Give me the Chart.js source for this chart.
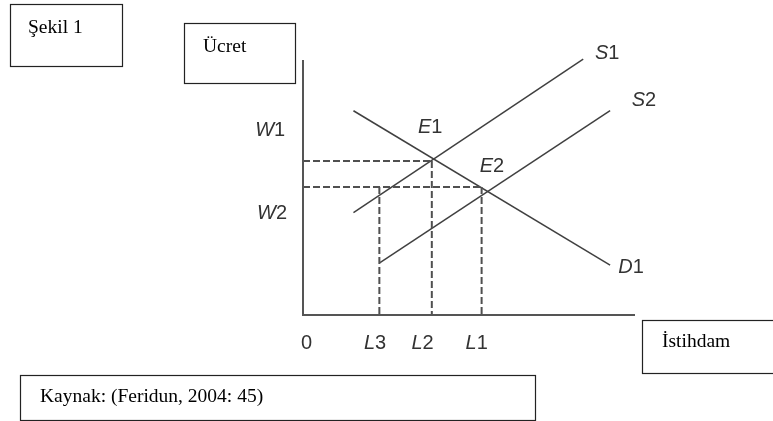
<!DOCTYPE html>
<html>
<head>
<meta charset="utf-8">
<script src="https://cdn.jsdelivr.net/npm/chart.js@4.4.1/dist/chart.umd.min.js"></script>
<style>
html,body{margin:0;padding:0;background:#fff;}
#wrap{position:relative;width:773px;height:421px;}
canvas{display:block;}
</style>
</head>
<body>
<div id="wrap"><canvas id="c" width="773" height="421"></canvas></div>
<script>
// ---- data (axis units: employment 0..100, wage 0..100) ----
const L3 = 23.0, L2 = 38.8, L1 = 53.8;
const W1 = 60.4, W2 = 50.2;
const supply1 = [{x: 15.2, y: 40.1}, {x: 84.4, y: 100.3}];
const supply2 = [{x: 23.2, y: 20.5}, {x: 92.5, y: 80.1}];
const demand1 = [{x: 15.2, y: 80.1}, {x: 92.5, y: 19.6}];
const xTickValues = [0, L3, L2, L1];
const xTickLabels = ['0', 'L3', 'L2', 'L1'];
const curveLabels = ['S1', 'S2', 'D1', 'E1', 'E2', 'W1', 'W2'];
const curveLabelX = [91.6, 102.7, 98.8, 38.3, 56.9, -9.9, -9.3];
const curveLabelY = [102.4, 84.3, 18.8, 73.7, 58.4, 72.2, 40.0];
const tickLabelX = [1.1, 21.7, 36.0, 52.3];
const tickLabelY = -11.1;

const solid = '#404040';
const dashCol = '#505050';

function line(data, opts) {
  return Object.assign({data, showLine: true, pointRadius: 0, borderColor: solid, borderWidth: 1.5, fill: false, clip: false}, opts || {});
}

const datasets = [
  // axes
  line([{x: 0, y: 100}, {x: 0, y: 0}, {x: 100, y: 0}], {borderColor: '#555', borderWidth: 2}),
  // guide lines
  line([{x: 0, y: W1}, {x: L2, y: W1}], {borderDash: [7, 3], borderColor: dashCol, borderWidth: 2}),
  line([{x: 0, y: W2}, {x: L1, y: W2}], {borderDash: [7, 3], borderColor: dashCol, borderWidth: 2}),
  line([{x: L3, y: W2}, {x: L3, y: 0}], {borderDash: [7, 3], borderColor: dashCol, borderWidth: 2}),
  line([{x: L2, y: W1}, {x: L2, y: 0}], {borderDash: [7, 3], borderColor: dashCol, borderWidth: 2}),
  line([{x: L1, y: W2}, {x: L1, y: 0}], {borderDash: [7, 3], borderColor: dashCol, borderWidth: 2}),
  // curves
  line(supply1),
  line(supply2),
  line(demand1)
];

const SANS = 20;
const SERIF = 19.5;

function drawMixed(ctx, text, cx, cy, size) {
  const letter = text[0], rest = text.slice(1);
  ctx.font = 'italic ' + size + 'px "Liberation Sans", Arial, sans-serif';
  const w1 = ctx.measureText(letter).width;
  ctx.font = size + 'px "Liberation Sans", Arial, sans-serif';
  const w2 = ctx.measureText(rest).width;
  let x = cx - (w1 + w2) / 2;
  ctx.textAlign = 'left';
  ctx.textBaseline = 'middle';
  ctx.font = 'italic ' + size + 'px "Liberation Sans", Arial, sans-serif';
  ctx.fillText(letter, x, cy);
  ctx.font = size + 'px "Liberation Sans", Arial, sans-serif';
  ctx.fillText(rest, x + w1, cy);
}

function box(ctx, x, y, w, h, text, tx, ty) {
  ctx.save();
  ctx.strokeStyle = '#222';
  ctx.lineWidth = 1.2;
  ctx.strokeRect(x + 0.5, y + 0.5, w, h);
  ctx.fillStyle = '#000';
  ctx.font = SERIF + 'px "Liberation Serif", "Times New Roman", serif';
  ctx.textAlign = 'left';
  ctx.textBaseline = 'middle';
  ctx.fillText(text, tx, ty);
  ctx.restore();
}

const labelPlugin = {
  id: 'labels',
  afterDraw(chart) {
    const ctx = chart.ctx;
    const xs = chart.scales.x, ys = chart.scales.y;
    ctx.save();
    ctx.fillStyle = '#333';
    curveLabels.forEach((t, i) => {
      drawMixed(ctx, t, xs.getPixelForValue(curveLabelX[i]), ys.getPixelForValue(curveLabelY[i]), SANS);
    });
    xTickLabels.forEach((t, i) => {
      const cx = xs.getPixelForValue(tickLabelX[i]);
      const cy = ys.getPixelForValue(tickLabelY);
      if (t.length === 1) {
        ctx.font = SANS + 'px "Liberation Sans", Arial, sans-serif';
        ctx.textAlign = 'center';
        ctx.textBaseline = 'middle';
        ctx.fillText(t, cx, cy);
      } else {
        drawMixed(ctx, t, cx, cy, SANS);
      }
    });
    ctx.restore();
    box(ctx, 10, 4, 112, 62, 'Şekil 1', 28, 28);
    box(ctx, 184, 23, 111, 60, 'Ücret', 203, 47);
    box(ctx, 642, 320, 140, 53, 'İstihdam', 662, 342);
    box(ctx, 20, 375, 515, 45, 'Kaynak: (Feridun, 2004: 45)', 40, 397);
  }
};

new Chart(document.getElementById('c'), {
  type: 'scatter',
  data: {datasets},
  options: {
    responsive: false,
    animation: false,
    events: [],
    layout: {padding: {left: 303, right: 138, top: 60, bottom: 106}},
    plugins: {legend: {display: false}, tooltip: {enabled: false}},
    scales: {
      x: {type: 'linear', min: 0, max: 100, display: false, afterBuildTicks: s => { s.ticks = xTickValues.map(v => ({value: v})); }},
      y: {type: 'linear', min: 0, max: 100, display: false}
    }
  },
  plugins: [labelPlugin]
});
</script>
</body>
</html>
